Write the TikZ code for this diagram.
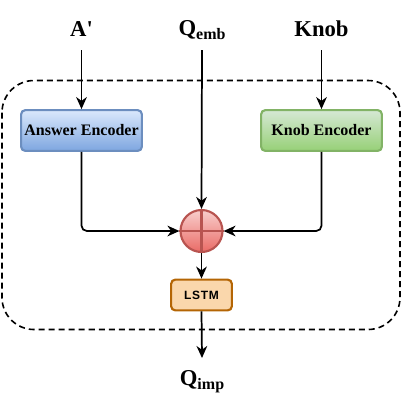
\documentclass[tikz,border=0pt]{standalone}
\usepackage{fontspec}
\setmainfont{Liberation Serif}
\newfontfamily\plainser{Liberation Serif}[Ligatures=TeXOff]
\newfontfamily\lsans{Liberation Sans}
\usetikzlibrary{arrows.meta}
\definecolor{blueT}{HTML}{DAE8FC}
\definecolor{blueB}{HTML}{7EA6E0}
\definecolor{blueS}{HTML}{6C8EBF}
\definecolor{greenT}{HTML}{D5E8D4}
\definecolor{greenB}{HTML}{97D077}
\definecolor{greenS}{HTML}{82B366}
\definecolor{redT}{HTML}{F8CECC}
\definecolor{redB}{HTML}{EA6B66}
\definecolor{redS}{HTML}{B85450}
\definecolor{orF}{HTML}{FAD7AC}
\definecolor{orS}{HTML}{B46504}
\tikzset{
  arr/.style={draw=black, line width=1.3pt, -{Stealth[length=9pt,width=8pt,inset=2.8pt]}},
  encbox/.style={rectangle, rounded corners=3pt, line width=1.6pt, minimum width=90.5pt, minimum height=30.5pt, inner sep=0pt, font=\bfseries\fontsize{12}{13}\selectfont},
  toplab/.style={font=\bfseries\fontsize{17}{19}\selectfont, inner sep=0pt},
}
\begin{document}
\begin{tikzpicture}[x=0.75pt,y=-0.75pt]
\useasboundingbox (0,0) rectangle (402,401);
% dashed container
\draw[line width=1.2pt, dash pattern=on 4.5pt off 3pt, rounded corners=24pt] (2,80.5) rectangle (400,329.5);
% labels
\node[toplab] (alab) at (81.5,29) {\plainser\bfseries A'};
\node[toplab] (qlab) at (202,30) {Q\raisebox{-0.35ex}{\fontsize{12}{13}\selectfont emb}};
\node[toplab] (klab) at (321.5,29) {Knob};
\node[toplab] (ilab) at (202,382) {Q\raisebox{-0.35ex}{\fontsize{12}{13}\selectfont imp}};
\coordinate (a0) at (81.5,50);
\coordinate (q0) at (202,50);
\coordinate (k0) at (321.5,50);
\coordinate (i0) at (202,358);
% boxes
\node[encbox, draw=blueS, top color=blueT, bottom color=blueB] (ans) at (81.5,130.5) {Answer Encoder};
\node[encbox, draw=greenS, top color=greenT, bottom color=greenB] (knob) at (321.5,130.5) {Knob Encoder};
\node[circle, draw=redS, line width=1.6pt, top color=redT, bottom color=redB, minimum size=31.5pt, inner sep=0pt] (plus) at (201.5,231) {};
\draw[redS, line width=1.6pt] (plus.north) -- (plus.south) (plus.west) -- (plus.east);
\node[rectangle, rounded corners=3pt, draw=orS, fill=orF, line width=1.6pt, minimum width=45.5pt, minimum height=23pt, inner sep=0pt, font=\lsans\bfseries\fontsize{9}{10}\selectfont] (lstm) at (201.5,295) {L\kern0.5pt S\kern0.5pt T\kern0.5pt M};
% connectors
\draw[arr] (a0) -- (ans.north);
\draw[arr] (k0) -- (knob.north);
\draw[arr] (q0) -- (plus.north);
\draw[arr, rounded corners=4pt] (ans.south) |- (plus.west);
\draw[arr, rounded corners=4pt] (knob.south) |- (plus.east);
\draw[arr] (plus.south) -- (lstm.north);
\draw[arr] (lstm.south) -- (i0);
\end{tikzpicture}
\end{document}
